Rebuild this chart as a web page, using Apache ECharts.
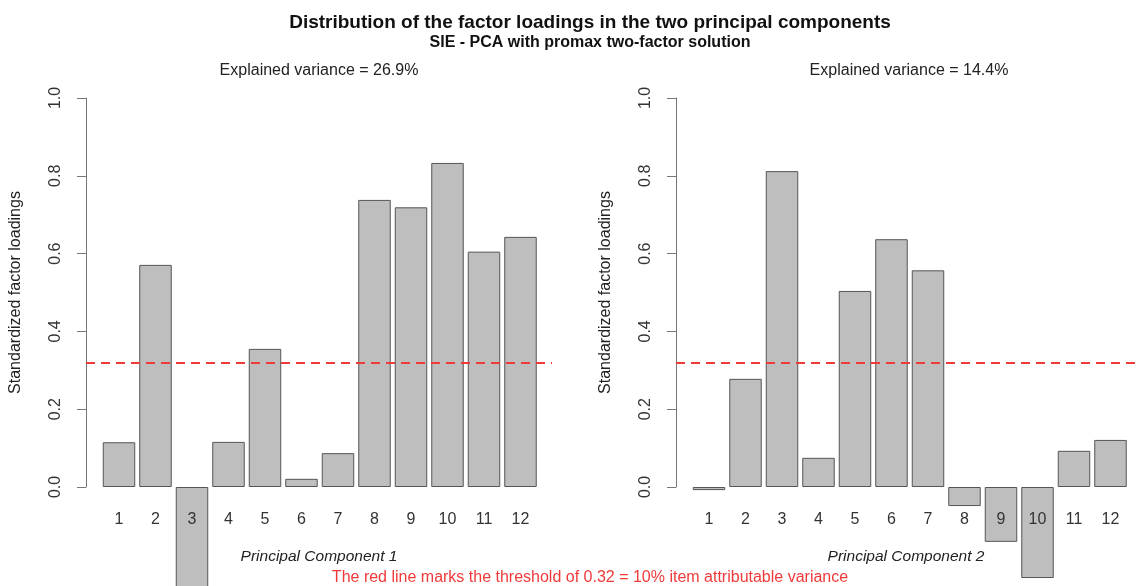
<!DOCTYPE html>
<html>
<head>
<meta charset="utf-8">
<script src="https://cdn.jsdelivr.net/npm/echarts@6/dist/echarts.min.js"></script>
<style>
html,body{margin:0;padding:0;background:#fff;}
#chart{width:1136px;height:586px;}
</style>
</head>
<body>
<div id="chart"></div>
<script>
// ---- data ----
const items = ['1','2','3','4','5','6','7','8','9','10','11','12'];
const loadingsPC1 = [0.115, 0.571, -0.27, 0.116, 0.355, 0.021, 0.087, 0.738, 0.719, 0.833, 0.605, 0.643];
const loadingsPC2 = [-0.008, 0.278, 0.812, 0.075, 0.504, 0.637, 0.557, -0.049, -0.141, -0.234, 0.093, 0.121];
const yTickLabels = ['0.0', '0.2', '0.4', '0.6', '0.8', '1.0'];
const threshold = 0.32;
const explainedPC1 = 'Explained variance = 26.9%';
const explainedPC2 = 'Explained variance = 14.4%';
const mainTitle = 'Distribution of the factor loadings in the two principal components';
const subTitle = 'SIE - PCA with promax two-factor solution';
const footNote = 'The red line marks the threshold of 0.32 = 10% item attributable variance';
const xNames = ['Principal Component 1', 'Principal Component 2'];
const yName = 'Standardized factor loadings';

const FONT = '"Liberation Sans", Arial, sans-serif';
const TOP = 98, H = 389, PANEL_SHIFT = 590;

function barXAxis(gi) {
  return {
    type: 'category', gridIndex: gi, data: items, z: 5,
    axisLine: {show: false}, axisTick: {show: false},
    axisLabel: {margin: 25, fontFamily: FONT, fontSize: 16, color: '#333'}
  };
}
function frameXAxis(gi, name) {
  return {
    type: 'value', gridIndex: gi, min: 0, max: 1,
    axisLine: {show: false}, axisTick: {show: false}, axisLabel: {show: false}, splitLine: {show: false},
    name: name, nameLocation: 'middle', nameGap: 62,
    nameTextStyle: {fontFamily: FONT, fontSize: 15.5, fontStyle: 'italic', color: '#222'}
  };
}
function hiddenYAxis(gi) {
  return {type: 'value', gridIndex: gi, min: 0, max: 1, interval: 0.2, show: false};
}
function shownYAxis(gi) {
  return {
    type: 'value', gridIndex: gi, min: 0, max: 1, interval: 0.2,
    axisLine: {show: true, lineStyle: {color: '#777', width: 1}},
    axisTick: {show: true, length: 9, lineStyle: {color: '#777'}},
    splitLine: {show: false},
    axisLabel: {
      rotate: 90, margin: 22, fontFamily: FONT, fontSize: 16, color: '#333',
      formatter: function (v) { return yTickLabels[Math.round(v / 0.2)]; }
    },
    name: yName, nameLocation: 'middle', nameGap: 62, nameRotate: 90,
    nameTextStyle: {fontFamily: FONT, fontSize: 16, color: '#222'}
  };
}
function barSeries(xi, data) {
  return {
    type: 'bar', xAxisIndex: xi, yAxisIndex: xi, data: data, clip: false,
    barCategoryGap: '11%', silent: true,
    itemStyle: {color: '#bebebe', borderColor: '#555', borderWidth: 1}
  };
}
function thresholdSeries(xi) {
  return {
    type: 'line', xAxisIndex: xi, yAxisIndex: xi, data: [], silent: true,
    markLine: {
      silent: true, symbol: ['none', 'none'], label: {show: false},
      lineStyle: {color: '#f03a3a', type: [9, 6], width: 2},
      data: [{yAxis: threshold}]
    }
  };
}

const chart = echarts.init(document.getElementById('chart'), null, {renderer: 'canvas'});
chart.setOption({
  animation: false,
  backgroundColor: '#fff',
  grid: [
    {left: 100.75, top: TOP, width: 438, height: H},
    {left: 86, top: TOP, width: 466, height: H},
    {left: 100.75 + PANEL_SHIFT, top: TOP, width: 438, height: H},
    {left: 86 + PANEL_SHIFT, top: TOP, width: 466, height: H}
  ],
  xAxis: [barXAxis(0), frameXAxis(1, xNames[0]), barXAxis(2), frameXAxis(3, xNames[1])],
  yAxis: [hiddenYAxis(0), shownYAxis(1), hiddenYAxis(2), shownYAxis(3)],
  series: [
    barSeries(0, loadingsPC1), thresholdSeries(1),
    barSeries(2, loadingsPC2), thresholdSeries(3)
  ],
  graphic: [
    {type: 'text', x: 590, y: 23, style: {text: mainTitle, font: 'bold 19px ' + FONT, fill: '#111', textAlign: 'center', textVerticalAlign: 'middle'}},
    {type: 'text', x: 590, y: 43, style: {text: subTitle, font: 'bold 16px ' + FONT, fill: '#111', textAlign: 'center', textVerticalAlign: 'middle'}},
    {type: 'text', x: 319, y: 71, style: {text: explainedPC1, font: '16px ' + FONT, fill: '#222', textAlign: 'center', textVerticalAlign: 'middle'}},
    {type: 'text', x: 319 + PANEL_SHIFT, y: 71, style: {text: explainedPC2, font: '16px ' + FONT, fill: '#222', textAlign: 'center', textVerticalAlign: 'middle'}},
    {type: 'text', x: 590, y: 578, style: {text: footNote, font: '16px ' + FONT, fill: '#f03a3a', textAlign: 'center', textVerticalAlign: 'middle'}}
  ]
});
</script>
</body>
</html>
